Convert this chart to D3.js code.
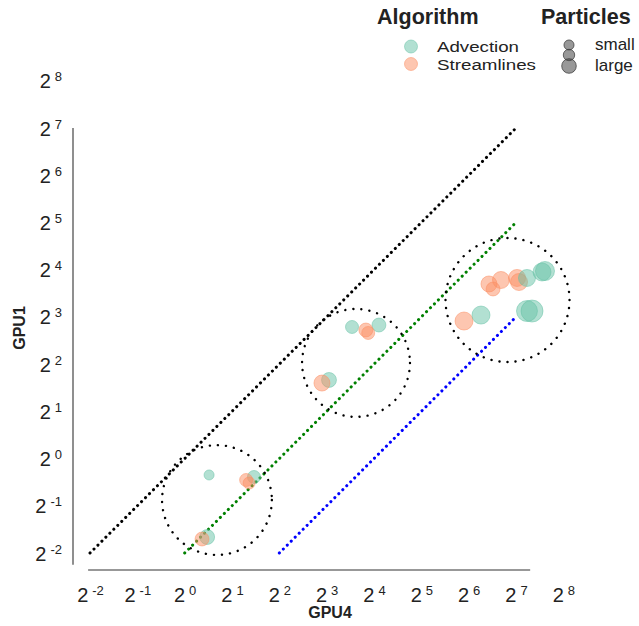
<!DOCTYPE html>
<html><head><meta charset="utf-8">
<script src="https://cdn.jsdelivr.net/npm/d3@7"></script>
<style>
body{margin:0;background:#fff}
svg{font-family:"Liberation Sans",Arial,Helvetica,sans-serif}
</style>
</head><body>
<svg id="chart" width="639" height="626"></svg>
<script>
// Runtime (GPU4 vs GPU1) per run, log2 axes
const algorithms = ["Advection", "Streamlines"];
const algoColors = ["#66c2a5", "#fc8d62"];

const pointAlgo = [
  "Advection", "Advection", "Streamlines", "Streamlines", "Advection", "Streamlines",
  "Advection", "Advection", "Streamlines", "Streamlines", "Advection", "Streamlines",
  "Streamlines", "Advection", "Streamlines", "Streamlines", "Streamlines", "Streamlines",
  "Streamlines", "Advection", "Advection", "Advection", "Advection", "Advection"
];
const gpu4 = [
  1.43, 2.76, 2.46, 2.57, 1.39, 1.29,
  11.6, 17.2, 14.2, 14.7, 8.28, 7.47,
  59.8, 76.7, 86.2, 91.5, 102.8, 130.0,
  133.8, 150.4, 187.4, 195.8, 150.4, 161.9
];
const gpu1 = [
  0.786, 0.763, 0.730, 0.698, 0.316, 0.307,
  6.90, 7.10, 6.60, 6.32, 3.17, 3.03,
  7.53, 8.22, 12.97, 12.05, 13.75, 14.16,
  13.35, 14.16, 15.47, 15.69, 8.72, 8.72
];
const particleSize = [
  2.1, 3.5, 3.5, 3.0, 4.6, 4.0,
  3.5, 4.0, 4.0, 3.5, 4.6, 5.3,
  6.7, 6.7, 5.3, 4.0, 6.0, 6.0,
  6.0, 6.0, 6.7, 7.5, 9.1, 10.0
];

const tickExponents = [-2, -1, 0, 1, 2, 3, 4, 5, 6, 7, 8];

// Reference lines GPU1 = GPU4 / ratio
const lineRatios = [1, 4, 16];
const lineStartX = [0.25, 1, 4];
const lineEndX = [128, 128, 128];
const lineColors = ["#000000", "#008000", "#0000ff"];

// Cluster outlines: centre (GPU4, GPU1) and radius in octaves
const clusterX = [1.605, 12.30, 113.1];
const clusterY = [0.544, 4.07, 10.25];
const clusterR = [1.16, 1.14, 1.31];

const sizeLegendLabels = ["small", "large"];

const svg = d3.select("#chart");

const x = d3.scaleLog().base(2).domain([0.25, 256]).range([90, 563.3]);
const y = d3.scaleLog().base(2).domain([0.25, 256]).range([553, 80.8]);
const octave = x(2) - x(1);
const r = d3.scaleSqrt().domain([0, 10]).range([0, 11]);
const color = d3.scaleOrdinal().domain(algorithms).range(algoColors);

// range-frame axis lines
svg.append("line").attr("x1", x(2 ** -2.04)).attr("x2", x(2 ** 7.3))
  .attr("y1", 570).attr("y2", 570).attr("stroke", "#333").attr("stroke-width", 1.1);
svg.append("line").attr("x1", 73).attr("x2", 73)
  .attr("y1", y(2 ** 7)).attr("y2", y(2 ** -2.25)).attr("stroke", "#333").attr("stroke-width", 1.1);

// tick labels with superscript exponents
function powerLabel(sel, d) {
  sel.append("tspan").text("2");
  sel.append("tspan").attr("dx", 4).attr("dy", -7).attr("font-size", 13)
    .text(Math.round(Math.log2(d)));
}

const xAxis = svg.append("g").attr("transform", "translate(0,570)")
  .call(d3.axisBottom(x).tickValues(tickExponents.map(e => 2 ** e)).tickSize(0).tickFormat(""));
xAxis.select(".domain").remove();
xAxis.selectAll(".tick").each(function(d) {
  const t = d3.select(this).append("text").attr("y", 32).attr("text-anchor", "middle")
    .attr("fill", "#222").attr("font-size", 20);
  powerLabel(t, d);
});

const yAxis = svg.append("g").attr("transform", "translate(62,0)")
  .call(d3.axisLeft(y).tickValues(tickExponents.map(e => 2 ** e)).tickSize(0).tickFormat(""));
yAxis.select(".domain").remove();
yAxis.selectAll(".tick").each(function(d) {
  const t = d3.select(this).append("text").attr("x", 0).attr("y", 7).attr("text-anchor", "end")
    .attr("fill", "#222").attr("font-size", 20);
  powerLabel(t, d);
});

svg.append("text").attr("x", 330).attr("y", 618).attr("text-anchor", "middle")
  .attr("font-weight", "bold").attr("font-size", 16).attr("fill", "#222").text("GPU4");
svg.append("text").attr("transform", "translate(25,328) rotate(-90)").attr("text-anchor", "middle")
  .attr("font-weight", "bold").attr("font-size", 16).attr("fill", "#222").text("GPU1");

// reference lines
lineRatios.forEach((k, i) => {
  svg.append("line")
    .attr("x1", x(lineStartX[i])).attr("y1", y(lineStartX[i] / k))
    .attr("x2", x(lineEndX[i])).attr("y2", y(lineEndX[i] / k))
    .attr("stroke", lineColors[i]).attr("stroke-width", 3)
    .attr("stroke-linecap", "round").attr("stroke-dasharray", "0.1 5.5");
});

// cluster outlines
clusterX.forEach((cx, i) => {
  svg.append("circle").attr("cx", x(cx)).attr("cy", y(clusterY[i]))
    .attr("r", clusterR[i] * octave).attr("fill", "none")
    .attr("stroke", "#000").attr("stroke-width", 2.4)
    .attr("stroke-linecap", "round").attr("stroke-dasharray", "0.1 8");
});

// points
const pts = gpu4.map((g, i) => ({ gx: g, gy: gpu1[i], algo: pointAlgo[i], s: particleSize[i] }));
svg.append("g").selectAll("circle").data(pts).join("circle")
  .attr("cx", d => x(d.gx)).attr("cy", d => y(d.gy)).attr("r", d => r(d.s))
  .attr("fill", d => color(d.algo)).attr("fill-opacity", 0.5)
  .attr("stroke", d => color(d.algo)).attr("stroke-opacity", 0.5).attr("stroke-width", 1);

// legend: algorithm
svg.append("text").attr("x", 377).attr("y", 24).attr("font-weight", "bold")
  .attr("font-size", 21.5).attr("fill", "#222").text("Algorithm");
algorithms.forEach((a, i) => {
  svg.append("circle").attr("cx", 411).attr("cy", 46.5 + i * 17.5).attr("r", 6.5)
    .attr("fill", algoColors[i]).attr("fill-opacity", 0.5)
    .attr("stroke", algoColors[i]).attr("stroke-opacity", 0.5);
  svg.append("text").attr("x", 437).attr("y", 52 + i * 17.5).attr("font-size", 15.5)
    .attr("textLength", i === 0 ? 82 : 99).attr("lengthAdjust", "spacingAndGlyphs")
    .attr("fill", "#222").text(a);
});

// legend: particles
svg.append("text").attr("x", 541).attr("y", 24).attr("font-weight", "bold")
  .attr("font-size", 21.5).attr("fill", "#222").text("Particles");
[[45, 2.1], [55, 2.7], [66, 4.4]].forEach(([cy, s]) => {
  svg.append("circle").attr("cx", 569).attr("cy", cy).attr("r", r(s))
    .attr("fill", "#444").attr("fill-opacity", 0.55)
    .attr("stroke", "#333").attr("stroke-opacity", 0.7);
});
sizeLegendLabels.forEach((l, i) => {
  svg.append("text").attr("x", 595).attr("y", 50 + i * 21).attr("font-size", 17)
    .attr("fill", "#222").text(l);
});
</script>
</body></html>
